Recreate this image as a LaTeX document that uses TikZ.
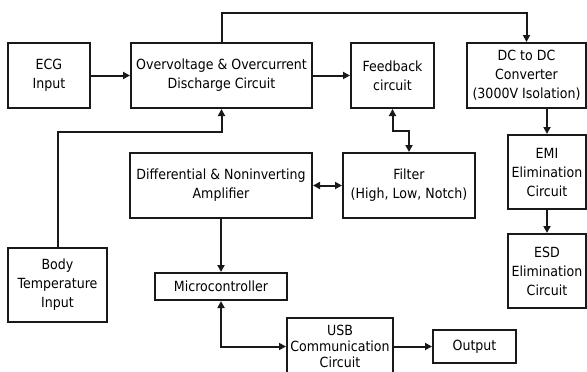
\documentclass[tikz,border=0pt]{standalone}
\usepackage{fontspec}
\setmainfont{DejaVu Sans}[FakeStretch=0.9]
\usetikzlibrary{arrows.meta}
\begin{document}
\begin{tikzpicture}[x=1pt,y=-1pt,
  box/.style={draw=black!90,line width=2pt,inner sep=0pt,align=center,font=\fontsize{14}{19}\selectfont},
  conn/.style={draw=black!90,line width=2pt,-{Triangle[length=7pt,width=7pt]}},
  biconn/.style={draw=black!90,line width=2pt,{Triangle[length=7pt,width=7pt]}-{Triangle[length=7pt,width=7pt]}}]
\useasboundingbox (0,0) rectangle (587,372);
\clip (0,0) rectangle (587,372);
\node[box,minimum width=82pt,minimum height=65pt] (ecg) at (49,75.5) {ECG\\Input};
\node[box,minimum width=181pt,minimum height=65pt] (ov) at (221.5,75.5) {Overvoltage \& Overcurrent\\Discharge Circuit};
\node[box,minimum width=83pt,minimum height=65pt] (fb) at (392.5,75.5) {Feedback\\circuit};
\node[box,minimum width=119pt,minimum height=65pt] (dc) at (526.5,75.5) {DC to DC\\Converter\\(3000V Isolation)};
\node[box,minimum width=78pt,minimum height=74pt] (emi) at (547,172) {EMI\\Elimination\\Circuit};
\node[box,minimum width=78pt,minimum height=74pt] (esd) at (547,271) {ESD\\Elimination\\Circuit};
\node[box,minimum width=132pt,minimum height=65pt] (filter) at (409,185.5) {Filter\\(High, Low, Notch)};
\node[box,minimum width=182pt,minimum height=65pt] (diff) at (221,185.5) {Differential \& Noninverting\\Amplifier};
\node[box,minimum width=99pt,minimum height=74pt] (body) at (57.5,285) {Body\\Temperature\\Input};
\node[box,minimum width=132pt,minimum height=27pt] (micro) at (221,286.5) {Microcontroller};
\node[box,minimum width=106pt,minimum height=57pt,font=\fontsize{14}{16}\selectfont] (usb) at (340,346.5) {USB\\Communication\\Circuit};
\node[box,minimum width=83pt,minimum height=33pt] (out) at (474.5,346.5) {Output};
\draw[conn] (ecg.east) -- (ov.west);
\draw[conn] (ov.east) -- (fb.west);
\draw[conn] (ov.north) -- ++(0,-29) -| (dc.north);
\draw[conn] (emi.north |- dc.south) -- (emi.north);
\draw[conn] (emi.south) -- (esd.north);
\draw[biconn] (fb.south) -- ++(0,22) -| (filter.north);
\draw[biconn] (diff.east) -- (filter.west);
\draw[conn] (body.north) -- ++(0,-115) -| (ov.south);
\draw[conn] (diff.south) -- (micro.north);
\draw[biconn] (micro.south) |- (usb.west);
\draw[conn] (usb.east) -- (out.west);
\end{tikzpicture}
\end{document}
